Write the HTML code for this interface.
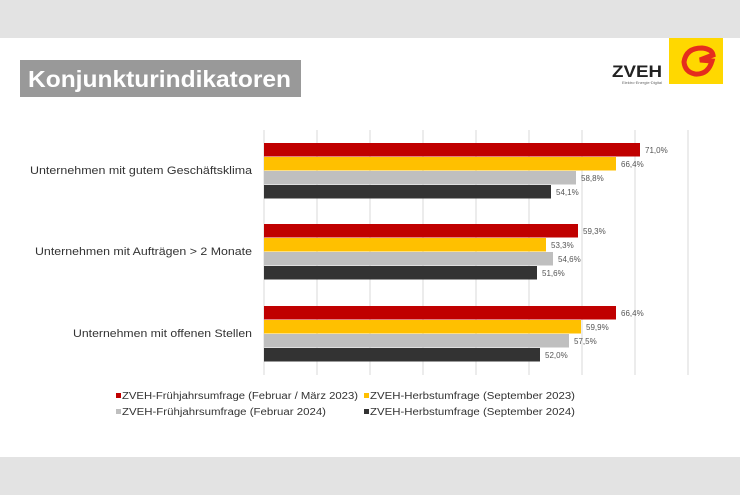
<!DOCTYPE html>
<html><head><meta charset="utf-8"><style>
body{margin:0;width:740px;height:495px;background:#fff;overflow:hidden;font-family:"Liberation Sans",sans-serif;}
</style></head><body>
<svg width="740" height="495" xmlns="http://www.w3.org/2000/svg" font-family="Liberation Sans, sans-serif">
<rect x="0" y="0" width="740" height="38" fill="#e3e3e3"/>
<rect x="0" y="457" width="740" height="38" fill="#e3e3e3"/>
<rect x="20" y="60" width="281" height="37" fill="#999"/>
<text x="28" y="87" font-size="23" font-weight="bold" fill="#fff" textLength="263" lengthAdjust="spacingAndGlyphs">Konjunkturindikatoren</text>
<rect x="669" y="38" width="54" height="46" fill="#ffd800"/>
<path d="M684 62 Q686 48 702 48 Q712 49 713 55 L700 60 L712 61 Q708 75 695 74 Q685 72 684 62Z" fill="none" stroke="#e52d1d" stroke-width="5"/>
<text x="662" y="77" font-size="17" font-weight="bold" fill="#222" text-anchor="end" textLength="50" lengthAdjust="spacingAndGlyphs">ZVEH</text>
<text x="662" y="84" font-size="4" fill="#666" text-anchor="end">Elektro·Energie·Digital</text>
<g stroke="#d9d9d9" stroke-width="1">
<line x1="317" y1="130" x2="317" y2="375"/><line x1="370" y1="130" x2="370" y2="375"/><line x1="423" y1="130" x2="423" y2="375"/><line x1="476" y1="130" x2="476" y2="375"/><line x1="529" y1="130" x2="529" y2="375"/><line x1="582" y1="130" x2="582" y2="375"/><line x1="635" y1="130" x2="635" y2="375"/><line x1="688" y1="130" x2="688" y2="375"/>
</g>
<line x1="264" y1="130" x2="264" y2="375" stroke="#d9d9d9"/>
<g font-size="8" fill="#555">
<rect x="264" y="143" width="376" height="13.5" fill="#c00000"/><text x="645" y="153">71,0%</text>
<rect x="264" y="157" width="352" height="13.5" fill="#ffc000"/><text x="621" y="167">66,4%</text>
<rect x="264" y="171" width="312" height="13.5" fill="#bfbfbf"/><text x="581" y="181">58,8%</text>
<rect x="264" y="185" width="287" height="13.5" fill="#333"/><text x="556" y="195">54,1%</text>
<rect x="264" y="224" width="314" height="13.5" fill="#c00000"/><text x="583" y="234">59,3%</text>
<rect x="264" y="238" width="282" height="13.5" fill="#ffc000"/><text x="551" y="248">53,3%</text>
<rect x="264" y="252" width="289" height="13.5" fill="#bfbfbf"/><text x="558" y="262">54,6%</text>
<rect x="264" y="266" width="273" height="13.5" fill="#333"/><text x="542" y="276">51,6%</text>
<rect x="264" y="306" width="352" height="13.5" fill="#c00000"/><text x="621" y="316">66,4%</text>
<rect x="264" y="320" width="317" height="13.5" fill="#ffc000"/><text x="586" y="330">59,9%</text>
<rect x="264" y="334" width="305" height="13.5" fill="#bfbfbf"/><text x="574" y="344">57,5%</text>
<rect x="264" y="348" width="276" height="13.5" fill="#333"/><text x="545" y="358">52,0%</text>
</g>
<g font-size="11" fill="#333">
<text x="30" y="174" textLength="222" lengthAdjust="spacingAndGlyphs">Unternehmen mit gutem Geschäftsklima</text>
<text x="35" y="255" textLength="217" lengthAdjust="spacingAndGlyphs">Unternehmen mit Aufträgen &gt; 2 Monate</text>
<text x="73" y="337" textLength="179" lengthAdjust="spacingAndGlyphs">Unternehmen mit offenen Stellen</text>
</g>
<g font-size="10" fill="#333">
<rect x="116" y="393" width="5" height="5" fill="#c00000"/><text x="122" y="399" textLength="236" lengthAdjust="spacingAndGlyphs">ZVEH-Frühjahrsumfrage (Februar / März 2023)</text>
<rect x="364" y="393" width="5" height="5" fill="#ffc000"/><text x="370" y="399" textLength="205" lengthAdjust="spacingAndGlyphs">ZVEH-Herbstumfrage (September 2023)</text>
<rect x="116" y="409" width="5" height="5" fill="#bfbfbf"/><text x="122" y="415" textLength="204" lengthAdjust="spacingAndGlyphs">ZVEH-Frühjahrsumfrage (Februar 2024)</text>
<rect x="364" y="409" width="5" height="5" fill="#333"/><text x="370" y="415" textLength="205" lengthAdjust="spacingAndGlyphs">ZVEH-Herbstumfrage (September 2024)</text>
</g>
</svg>
</body></html>
